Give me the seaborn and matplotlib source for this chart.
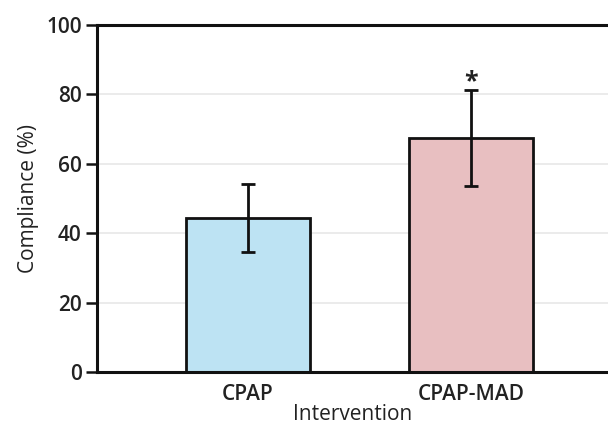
import seaborn as sns
import pandas as pd
import matplotlib.pyplot as plt

# Data -----

interventions = ["CPAP", "CPAP-MAD"]
compliance = [44.4, 67.4]
compliance_err = [9.9, 13.9]
bar_colors = ["#bde3f3", "#e8bfc1"]

df = pd.DataFrame({"Intervention": interventions, "Compliance": compliance})

# Plot -----

sns.set_theme(style="white")
plt.rcParams["font.family"] = ["Open Sans", "DejaVu Sans"]

fig = plt.figure(figsize=(6.08, 4.29), dpi=100)
ax = fig.add_axes([0.1595, 0.1329, 0.8405, 0.8089])

sns.barplot(
    data=df,
    x="Intervention",
    y="Compliance",
    hue="Intervention",
    palette=bar_colors,
    saturation=1,
    width=0.556,
    edgecolor="#111111",
    linewidth=2,
    legend=False,
    errorbar=None,
    ax=ax,
    zorder=2,
)
ax.errorbar(
    range(len(interventions)),
    compliance,
    yerr=compliance_err,
    fmt="none",
    ecolor="#111111",
    elinewidth=2,
    capsize=5,
    capthick=2,
    zorder=3,
)
# significance marker just above the CPAP-MAD error bar
ax.text(1, compliance[1] + compliance_err[1] - 1.2, "*", ha="center", va="bottom",
        fontsize=18, fontweight="bold", color="#222222")

ax.set_xlim(-0.677, 1.614)
ax.set_ylim(0, 100)
ax.set_yticks([0, 20, 40, 60, 80, 100])
ax.yaxis.grid(True, color="#e8e8e8", linewidth=1.2, zorder=0)
ax.set_axisbelow(True)

for side in ["left", "top", "bottom"]:
    ax.spines[side].set_color("#111111")
    ax.spines[side].set_linewidth(2.2)
ax.spines["right"].set_visible(False)

ax.tick_params(axis="y", which="major", left=True, length=8, width=1.8,
               color="#111111", pad=3, labelsize=15, labelcolor="#222222")
ax.tick_params(axis="x", bottom=False, pad=3, labelsize=15, labelcolor="#222222")
for lbl in ax.get_yticklabels() + ax.get_xticklabels():
    lbl.set_fontweight("semibold")

ax.set_xlabel("Intervention", fontsize=15, color="#222222", labelpad=-1)
ax.set_ylabel("Compliance (%)", fontsize=15, color="#222222", labelpad=5)

fig.savefig("out.png", dpi=100)
